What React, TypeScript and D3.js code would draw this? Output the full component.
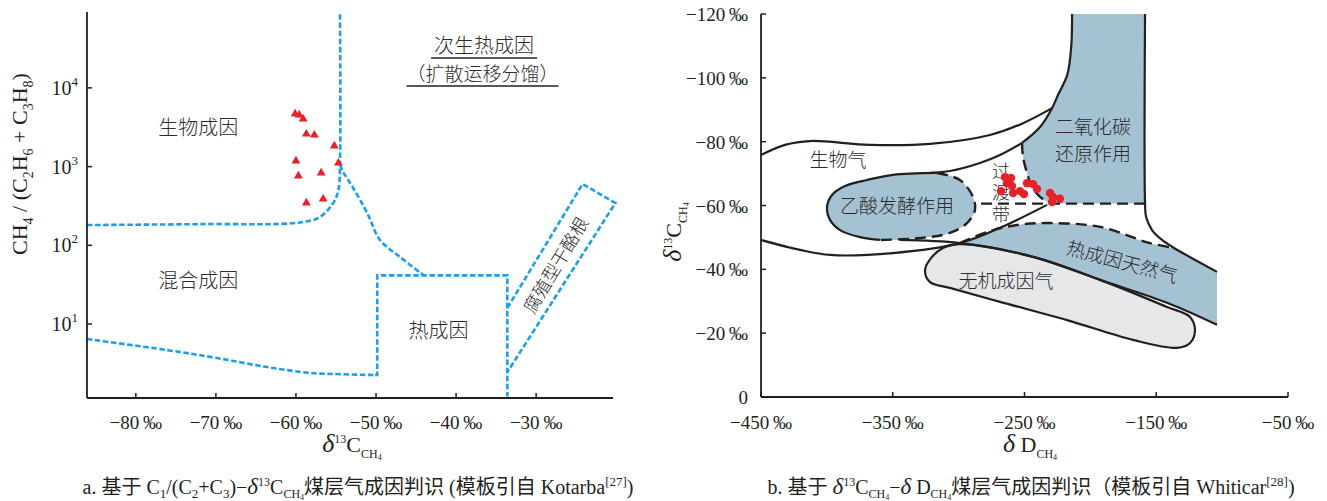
import React from 'react';
import * as d3 from 'd3';

const SERIF = '"Liberation Serif", "Times New Roman", "Noto Sans CJK SC", serif';
const CJK = '"Noto Sans CJK SC", "Liberation Serif", sans-serif';
const INK = '#231f20';
const CJK_INK = '#2e2b2c';
const BLUE_LINE = '#1c9fe4';
const FILL_BLUE = '#a4c2d2';
const FILL_GREY = '#e6e7e8';
const RED = '#e8202a';

type P = [number, number];

// ---------------- Left panel: Kotarba C1/(C2+C3) vs δ13C ----------------
const leftXDomain: P = [-86.1, -20.4];
const leftYDomain: P = [1.15, 92000];
const leftXTicks = [-80, -70, -60, -50, -40, -30];
const leftYTicks = [10, 100, 1000, 10000];
const leftYTickExp = ['1', '2', '3', '4'];

const triD13C = [-60.1, -59.6, -59.1, -58.7, -57.7, -55.2, -60.0, -54.7, -59.7, -56.85, -58.7, -56.6];
const triRatio = [4660, 4530, 4030, 2590, 2520, 1830, 1180, 1110, 760, 830, 345, 387];

const kBiogenicLine: P[] = [[-86.1, 181], [-72, 186], [-59.5, 195], [-57, 229], [-55.35, 345], [-54.7, 504], [-54.5, 1110], [-54.5, 92000]];
const kDiagLine: P[] = [[-54.5, 1047], [-54.1, 853], [-52.85, 535], [-51.1, 257], [-49.5, 117], [-47.0, 71], [-44.1, 42]];
const kLowerLine: P[] = [[-86.1, 6.45], [-76.1, 4.67], [-69.85, 3.7], [-63.6, 2.84], [-58.2, 2.39], [-55.35, 2.32], [-50.1, 2.25]];
const kThermoBox: P[] = [[-50.1, 2.25], [-49.85, 2.25], [-49.85, 41.5], [-33.6, 41.5], [-33.6, 1.2]];
const kHumicBranch: P[] = [[-33.6, 16], [-24.2, 601], [-20.1, 345], [-33.6, 2.45]];

const leftLabels = [
  { t: '生物成因', x: -72.2, y: 3100 },
  { t: '混合成因', x: -72.2, y: 35 },
  { t: '热成因', x: -42.2, y: 8.15 },
];

// ---------------- Right panel: Whiticar δ13C vs δD ----------------
const rightXDomain: P = [-450, -50];
const rightYDomain: P = [0, -120];
const rightXTicks = [-450, -350, -250, -150, -50];
const rightYTicks = [0, -20, -40, -60, -80, -100, -120];

const dotDD = [-264.8, -260.2, -263.3, -259.5, -267.8, -258.7, -253.4, -250.4, -248.1, -243.5, -240.5, -230.6, -228.4, -223.1, -229.1];
const dotD13C = [-68.9, -68.6, -67.0, -66.1, -64.5, -63.9, -64.5, -63.6, -67.0, -66.7, -65.2, -63.9, -62.7, -62.1, -61.1];

const wEnvelopeTop: P[] = [[-450, -75.8], [-431.8, -79], [-412.8, -80.2], [-367.3, -79], [-321.7, -79.3], [-276.2, -82.1], [-251.1, -85.8], [-229.1, -90.5]];
const wCo2LeftSolid: P[] = [[-213.9, -120], [-214.5, -110], [-217.5, -101], [-224.6, -94.6], [-229.1, -90.5], [-238.2, -84.6], [-251.9, -79.6]];
const wCo2LeftDashed: P[] = [[-251.9, -79.6], [-251.1, -75.2], [-248.1, -70.2], [-244.3, -65.8], [-238.2, -62.7], [-232.1, -61.1], [-229, -60.6]];
const wSixtyLine: P[] = [[-283, -60.6], [-158.5, -60.6]];
const wEnvelopeRight: P[] = [[-158.5, -120], [-158.5, -60.8], [-157.7, -56.4], [-153.2, -52.3], [-145.6, -49.2], [-136.5, -46.7], [-103.9, -39.2]];
const wInnerCurve: P[] = [[-251.9, -79.6], [-268.6, -75.8], [-283.8, -73.3], [-306.6, -70.8], [-321.7, -70.2]];
const wOvalDashed: P[] = [[-316.4, -70.2], [-299, -68], [-289.1, -62.7], [-287.6, -58.6], [-293.6, -54.5], [-306.6, -51.4], [-329.3, -49.8], [-359.7, -49.2]];
const wOvalSolid: P[] = [[-359.7, -49.2], [-374.9, -50.1], [-390, -52.3], [-397.6, -55.5], [-399.9, -59.5], [-396.1, -63.3], [-386.2, -66.1], [-369.5, -68], [-349.8, -69.6], [-316.4, -70.2]];
const wLowerEnvelope: P[] = [[-450, -49.2], [-420.4, -46.1], [-397.6, -44.5], [-349.8, -45.1], [-299, -48.2], [-268.6, -53], [-232.9, -60.2]];
const wBandBottom: P[] = [[-344.5, -49.2], [-299, -48.2], [-243.5, -43.9], [-192.7, -36.7], [-141.8, -29.5], [-103.9, -22.6]];
const wBandTopDashed: P[] = [[-299, -48.2], [-278.5, -51.7], [-255.7, -53.9], [-230.6, -54.5], [-192.7, -53.3], [-154.7, -48.2], [-136.5, -46.7]];
const wBandRightTop: P[] = [[-136.5, -46.7], [-103.9, -39.2]];
const wBandEdge: P[] = [[-103.9, -39.2], [-103.9, -22.6]];
const wAbiogenic: P[] = [[-325.5, -39.8], [-320.2, -43.9], [-311.9, -46.7], [-299, -47.9], [-243.5, -43.9], [-192.7, -36.7], [-141.8, -28.2], [-124.4, -25.1], [-120.6, -21], [-124.4, -16.9], [-134.2, -15.4], [-167.7, -17.9], [-217.7, -24.1], [-268.6, -29.8], [-306.6, -34.2], [-321.7, -36]];

const rightLabels = [
  { t: '生物气', x: -391.6, y: -74.3, r: 0, fs: 19 },
  { t: '乙酸发酵作用', x: -346.8, y: -59.8, r: 0, fs: 19 },
  { t: '二氧化碳', x: -198, y: -84.4, r: 0, fs: 19 },
  { t: '还原作用', x: -198, y: -76.1, r: 0, fs: 19 },
  { t: '过', x: -267.8, y: -70.6, r: 0, fs: 18 },
  { t: '渡', x: -267.8, y: -63.9, r: 0, fs: 18 },
  { t: '带', x: -267.8, y: -57.0, r: 0, fs: 18 },
  { t: '热成因天然气', x: -176, y: -42.3, r: 15, fs: 19 },
  { t: '无机成因气', x: -264, y: -36.3, r: 0, fs: 19 },
];

// ---------------- helpers ----------------
type Seg = { t: string; off?: number; fs?: number; it?: boolean; ff?: string };

function Rich(props: { x: number; y: number; fs: number; segs: Seg[]; anchor?: string; transform?: string }) {
  const { x, y, fs, segs, anchor = 'middle', transform } = props;
  let cur = 0;
  return (
    <text x={x} y={y} fontSize={fs} fontFamily={SERIF} textAnchor={anchor} transform={transform} fill={INK} style={{ whiteSpace: 'pre' }}>
      {segs.map((s, i) => {
        const off = s.off ?? 0;
        const dy = (off - cur) * fs;
        cur = off;
        return (
          <tspan key={i} dy={dy} fontSize={s.fs ?? fs} fontStyle={s.it ? 'italic' : undefined} fontFamily={s.ff}>
            {s.t}
          </tspan>
        );
      })}
    </text>
  );
}

function joinPaths(...parts: string[]) {
  return parts.map((p, i) => (i === 0 ? p : p.replace(/^M/, 'L'))).join('');
}

export default function App() {
  const lx = d3.scaleLinear().domain(leftXDomain).range([87, 613]);
  const ly = d3.scaleLog().domain(leftYDomain).range([398, 12]);
  const rx = d3.scaleLinear().domain(rightXDomain).range([761, 1288]);
  const ry = d3.scaleLinear().domain(rightYDomain).range([397, 14]);

  const lCurve = d3.line<P>().x((d) => lx(d[0])).y((d) => ly(d[1])).curve(d3.curveCatmullRom.alpha(0.5));
  const lLin = d3.line<P>().x((d) => lx(d[0])).y((d) => ly(d[1]));
  const rCurve = d3.line<P>().x((d) => rx(d[0])).y((d) => ry(d[1])).curve(d3.curveCatmullRom.alpha(0.5));
  const rLin = d3.line<P>().x((d) => rx(d[0])).y((d) => ry(d[1]));
  const rClosed = d3.line<P>().x((d) => rx(d[0])).y((d) => ry(d[1])).curve(d3.curveCatmullRomClosed.alpha(0.5));

  const tri = d3.symbol().type(d3.symbolTriangle).size(34)() as string;

  const blueDash = { fill: 'none', stroke: BLUE_LINE, strokeWidth: 2.6, strokeDasharray: '5.5 2.6' };
  const blackSolid = { fill: 'none', stroke: INK, strokeWidth: 2.2 };
  const blackDash = { fill: 'none', stroke: INK, strokeWidth: 2.4, strokeDasharray: '11 6' };

  const co2Fill = joinPaths(
    rCurve(wCo2LeftSolid) as string,
    rCurve(wCo2LeftDashed) as string,
    rLin([[-229, -60.6], [-158.5, -60.6], [-158.5, -120]]) as string
  ) + 'Z';
  const bandFill = joinPaths(
    rCurve(wBandTopDashed) as string,
    rLin(wBandRightTop) as string,
    rLin(wBandEdge) as string,
    rCurve([...wBandBottom].reverse().slice(0, 5)) as string
  ) + 'Z';
  const ovalAll = [...wOvalDashed.slice(0, -1), ...wOvalSolid.slice(0, -1)];

  const lxAxisY = 398;
  const rxAxisY = ry(0);

  const sub = 0.28, sub2 = 0.36, sup = -0.42;
  const csub = 0.22, csub2 = 0.28;

  const cjkText = { fontFamily: CJK, fontWeight: 300, fill: CJK_INK } as const;

  return (
    <svg width={1327} height={501} style={{ position: 'absolute', left: 0, top: 0, background: '#fff' }} fontFamily={SERIF}>
      <rect x={0} y={0} width={1327} height={501} fill="#fff" />

      {/* ============ LEFT PANEL ============ */}
      <g>
        <path d={lCurve(kBiogenicLine) as string} {...blueDash} />
        <path d={lCurve(kDiagLine) as string} {...blueDash} />
        <path d={lCurve(kLowerLine) as string} {...blueDash} />
        <path d={lLin(kThermoBox) as string} {...blueDash} />
        <path d={lLin(kHumicBranch) as string} {...blueDash} />

        {triD13C.map((v, i) => (
          <path key={i} d={tri} transform={`translate(${lx(v)},${ly(triRatio[i])})`} fill={RED} />
        ))}

        {leftLabels.map((l, i) => (
          <text key={i} x={lx(l.x)} y={ly(l.y)} dy="0.35em" textAnchor="middle" fontSize={20} {...cjkText}>
            {l.t}
          </text>
        ))}
        <text x={lx(-36.5)} y={ly(34000)} dy="0.35em" textAnchor="middle" fontSize={20} {...cjkText}>次生热成因</text>
        <line x1={lx(-36.5) - 53} x2={lx(-36.5) + 53} y1={ly(34000) + 12} y2={ly(34000) + 12} stroke={INK} strokeWidth={1.4} />
        <text x={lx(-36.7)} y={ly(15000)} dy="0.35em" textAnchor="middle" fontSize={19} {...cjkText}>（扩散运移分馏）</text>
        <line x1={lx(-36.7) - 76} x2={lx(-36.7) + 76} y1={ly(15000) + 12} y2={ly(15000) + 12} stroke={INK} strokeWidth={1.4} />
        <text x={lx(-27.5)} y={ly(56)} dy="0.35em" textAnchor="middle" fontSize={18} {...cjkText}
          transform={`rotate(-59 ${lx(-27.5)} ${ly(56)})`}>腐殖型干酪根</text>

        <line x1={87} x2={87} y1={12} y2={lxAxisY} stroke={INK} strokeWidth={1.8} />
        <line x1={87} x2={613} y1={lxAxisY} y2={lxAxisY} stroke={INK} strokeWidth={1.8} />
        {leftXTicks.map((t) => (
          <g key={t}>
            <line x1={lx(t)} x2={lx(t)} y1={lxAxisY} y2={lxAxisY - 5} stroke={INK} strokeWidth={1.5} />
            <text x={lx(t)} y={429} textAnchor="middle" fontSize={19} fill={INK}>{`\u2212${-t}\u2009‰`}</text>
          </g>
        ))}
        {leftYTicks.map((t, i) => (
          <g key={t}>
            <line x1={87} x2={92} y1={ly(t)} y2={ly(t)} stroke={INK} strokeWidth={1.5} />
            <Rich x={78} y={ly(t) + 7} fs={20} anchor="end" segs={[{ t: '10' }, { t: leftYTickExp[i], off: -0.45, fs: 13 }]} />
          </g>
        ))}
        <Rich x={352} y={452} fs={22} segs={[
          { t: 'δ', it: true, fs: 26 }, { t: '13', off: sup, fs: 12 }, { t: 'C', off: 0 }, { t: 'CH', off: sub, fs: 12 }, { t: '4', off: sub2, fs: 8 },
        ]} />
        <Rich x={27} y={164} fs={22} transform="rotate(-90 27 164)" segs={[
          { t: 'CH' }, { t: '4', off: sub, fs: 14 }, { t: ' / (C', off: 0 }, { t: '2', off: sub, fs: 14 }, { t: 'H', off: 0 }, { t: '6', off: sub, fs: 14 },
          { t: ' + C', off: 0 }, { t: '3', off: sub, fs: 14 }, { t: 'H', off: 0 }, { t: '8', off: sub, fs: 14 }, { t: ')', off: 0 },
        ]} />
        <Rich x={358} y={494} fs={20} segs={[
          { t: 'a. 基于 C' }, { t: '1', off: csub, fs: 13 }, { t: '/(C', off: 0 }, { t: '2', off: csub, fs: 13 }, { t: '+C', off: 0 }, { t: '3', off: csub, fs: 13 },
          { t: ')\u2212', off: 0 }, { t: 'δ', it: true, fs: 23 }, { t: '13', off: sup, fs: 12 }, { t: 'C', off: 0 }, { t: 'CH', off: csub, fs: 12 }, { t: '4', off: csub2, fs: 8 },
          { t: '煤层气成因判识 (模板引自 Kotarba', off: 0 }, { t: '[27]', off: sup, fs: 13 }, { t: ')', off: 0 },
        ]} />
      </g>

      {/* ============ RIGHT PANEL ============ */}
      <g>
        <path d={co2Fill} fill={FILL_BLUE} />
        <path d={bandFill} fill={FILL_BLUE} />
        <path d={rClosed(wAbiogenic) as string} fill={FILL_GREY} stroke={INK} strokeWidth={2.2} />
        <path d={rClosed(ovalAll) as string} fill={FILL_BLUE} />

        <path d={rCurve(wEnvelopeTop) as string} {...blackSolid} />
        <path d={rCurve(wCo2LeftSolid) as string} {...blackSolid} />
        <path d={rCurve(wCo2LeftDashed) as string} {...blackDash} />
        <path d={rLin(wSixtyLine) as string} {...blackDash} />
        <path d={rCurve(wEnvelopeRight) as string} {...blackSolid} />
        <path d={rCurve(wInnerCurve) as string} {...blackSolid} />
        <path d={rCurve(wLowerEnvelope) as string} {...blackSolid} />
        <path d={rCurve(wBandBottom) as string} {...blackSolid} />
        <path d={rCurve(wBandTopDashed) as string} {...blackDash} />
        <path d={rCurve(wOvalSolid) as string} {...blackSolid} />
        <path d={rCurve(wOvalDashed) as string} {...blackDash} />

        {rightLabels.map((l, i) => (
          <text key={i} x={rx(l.x)} y={ry(l.y)} dy="0.35em" textAnchor="middle" fontSize={l.fs} {...cjkText}
            transform={l.r ? `rotate(${l.r} ${rx(l.x)} ${ry(l.y)})` : undefined}>
            {l.t}
          </text>
        ))}

        {dotDD.map((v, i) => (
          <circle key={i} cx={rx(v)} cy={ry(dotD13C[i])} r={4.2} fill={RED} />
        ))}

        <line x1={761} x2={761} y1={14} y2={rxAxisY} stroke={INK} strokeWidth={1.8} />
        <line x1={761} x2={1288} y1={rxAxisY} y2={rxAxisY} stroke={INK} strokeWidth={1.8} />
        {rightXTicks.map((t) => (
          <g key={t}>
            <line x1={rx(t)} x2={rx(t)} y1={rxAxisY} y2={rxAxisY - 5} stroke={INK} strokeWidth={1.5} />
            <text x={rx(t)} y={429} textAnchor="middle" fontSize={19} fill={INK}>{`\u2212${-t}\u2009‰`}</text>
          </g>
        ))}
        {rightYTicks.map((t) => (
          <g key={t}>
            <line x1={761} x2={766} y1={ry(t)} y2={ry(t)} stroke={INK} strokeWidth={1.5} />
            <text x={748} y={ry(t) + 7} textAnchor="end" fontSize={19} fill={INK}>{t === 0 ? '0' : `\u2212${-t}\u2009‰`}</text>
          </g>
        ))}
        <Rich x={1030} y={452} fs={22} segs={[
          { t: 'δ', it: true, fs: 26 }, { t: ' D' }, { t: 'CH', off: sub, fs: 12 }, { t: '4', off: sub2, fs: 8 },
        ]} />
        <Rich x={681} y={232} fs={22} transform="rotate(-90 681 232)" segs={[
          { t: 'δ', it: true, fs: 26 }, { t: '13', off: sup, fs: 12 }, { t: 'C', off: 0 }, { t: 'CH', off: sub, fs: 12 }, { t: '4', off: sub2, fs: 8 },
        ]} />
        <Rich x={1031} y={494} fs={20} segs={[
          { t: 'b. 基于 ' }, { t: 'δ', it: true, fs: 23 }, { t: '13', off: sup, fs: 12 }, { t: 'C', off: 0 }, { t: 'CH', off: csub, fs: 12 }, { t: '4', off: csub2, fs: 8 },
          { t: '\u2212', off: 0 }, { t: 'δ', it: true, fs: 23 }, { t: ' D' }, { t: 'CH', off: csub, fs: 12 }, { t: '4', off: csub2, fs: 8 },
          { t: '煤层气成因判识（模板引自 Whiticar', off: 0 }, { t: '[28]', off: sup, fs: 13 }, { t: ')', off: 0 },
        ]} />
      </g>
    </svg>
  );
}
